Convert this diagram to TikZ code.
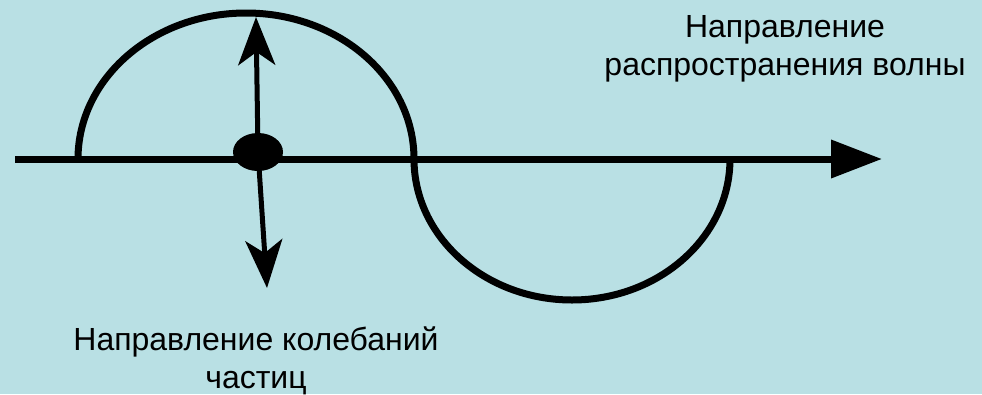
\documentclass[tikz,border=0pt]{standalone}
\usepackage{fontspec}
\setmainfont{Liberation Sans}
\usetikzlibrary{shapes.geometric,arrows.meta,positioning}
\definecolor{wavebg}{RGB}{185,224,228}

\begin{document}
\begin{tikzpicture}[x=1pt,y=-1pt,
      label/.style={align=center,font=\fontsize{32}{38}\selectfont},
      axis/.style={line width=7pt,-{Triangle[length=51pt,width=37pt]}},
      wave/.style={line width=7pt},
      osc/.style={line width=5pt,-{Stealth[length=48pt,width=37pt,inset=13pt]}}
      ]

      \fill[wavebg] (0,0) rectangle (982,394);
      \useasboundingbox (0,0) rectangle (982,394);

      \coordinate (start) at (15,159);
      \coordinate (finish) at (882,159);
      \coordinate (crest) at (78,159);
      \coordinate (up) at (256,17);
      \coordinate (down) at (267,288);

      \node[ellipse,fill=black,minimum width=50pt,minimum height=38pt,inner sep=0pt] (dot) at (258,152) {};

      \draw[axis] (start) -- (finish);
      \draw[wave] (crest) arc[start angle=180,end angle=0,x radius=168pt,y radius=146pt]
                          arc[start angle=180,end angle=360,x radius=158pt,y radius=141pt];

      \draw[osc] (dot.center) -- (up);
      \draw[osc] (dot.center) -- (down);

      \node[label] (wavedir) at (785,49) {
        Направление\\
        распространения волны
      };

      \node[label] (partdir) at (256,361) {
        Направление колебаний\\
        частиц
      };

    \end{tikzpicture}
\end{document}
